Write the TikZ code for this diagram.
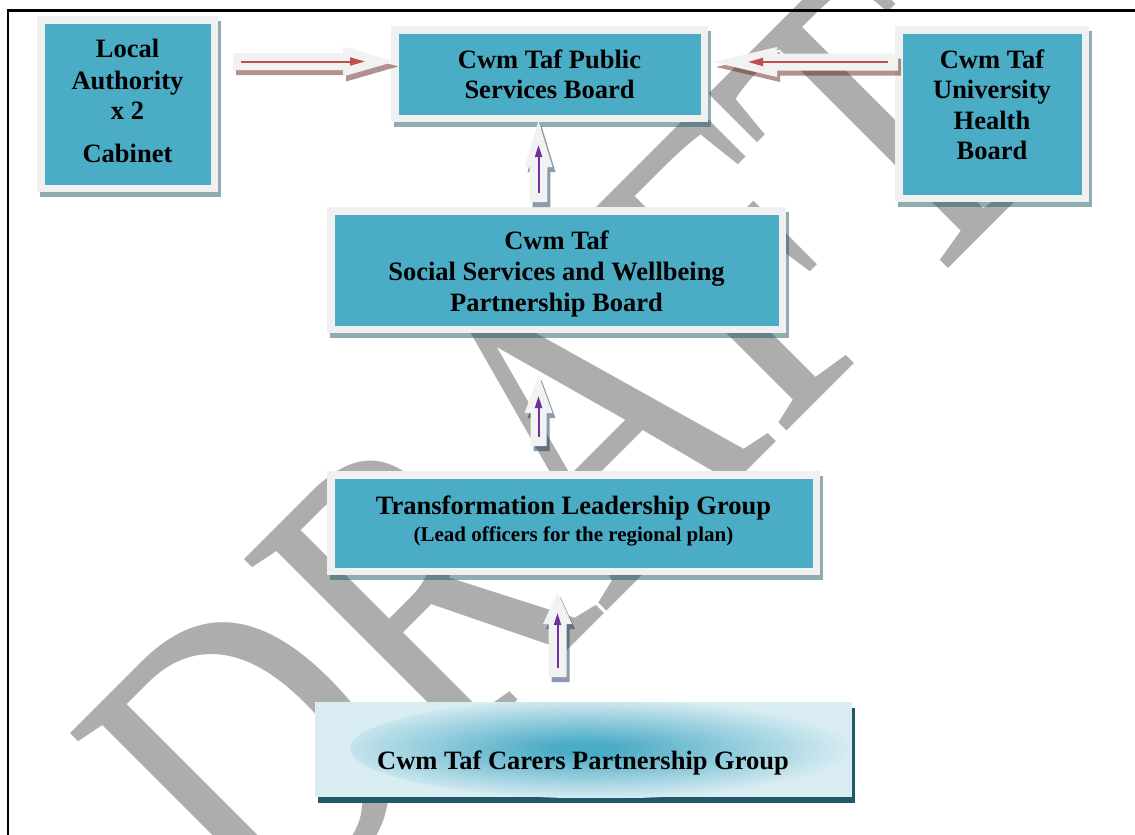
\documentclass[tikz,border=0pt]{standalone}
\usepackage{fontspec}
\setmainfont{Liberation Serif}
\usetikzlibrary{arrows.meta,calc,shadows}
\definecolor{teal1}{HTML}{4BACC6}
\definecolor{frame1}{HTML}{F0F0F0}
\definecolor{shd}{HTML}{215968}
\definecolor{wm}{HTML}{ADADAD}
\definecolor{arrfill}{HTML}{F2F2F2}
\definecolor{redl}{HTML}{C0504D}
\definecolor{purl}{HTML}{7030A0}
\definecolor{redshd}{HTML}{632523}
\definecolor{blushd}{HTML}{17365D}
\definecolor{lightc}{HTML}{D8ECF2}
\pgfdeclareradialshading{carersglow}{\pgfpointorigin}{color(0bp)=(teal1); color(3bp)=(teal1); color(25bp)=(lightc); color(50bp)=(lightc)}
% #1 tail, #2 tip, #3 shaft half width, #4 head half width, #5 head length, #6 fill style
\newcommand{\blockarrow}[6]{%
  \coordinate (#2-base) at ($(#2)!#5!(#1)$);
  \fill[#6] ($(#1)!#3!90:(#2)$) -- ($(#2-base)!#3!-90:(#1)$) -- ($(#2-base)!#4!-90:(#1)$) -- (#2)
    -- ($(#2-base)!#4!90:(#1)$) -- ($(#2-base)!#3!90:(#1)$) -- ($(#1)!#3!-90:(#2)$) -- cycle;}
\begin{document}
\begin{tikzpicture}[x=1pt,y=-1pt,
  panel/.style={rectangle, fill=frame1, inner sep=0pt,
    drop shadow={shadow xshift=3pt, shadow yshift=-5pt, fill=shd, opacity=0.5},
    path picture={\fill[teal1] ([shift={(7.5pt,-7.5pt)}]path picture bounding box.north west)
      rectangle ([shift={(-7.5pt,7.5pt)}]path picture bounding box.south east);}},
  carerbox/.style={rectangle, fill=lightc, inner sep=0pt,
    drop shadow={shadow xshift=3pt, shadow yshift=-6pt, fill=shd, opacity=1},
    path picture={\shade[shading=carersglow] ($(path picture bounding box.center)+(17pt,1pt)$)
      ellipse [x radius=250pt, y radius=50pt];}},
  boxtext/.style={font=\bfseries\fontsize{26.5}{30}\selectfont, anchor=base, inner sep=0pt},
  subtext/.style={font=\bfseries\fontsize{21}{24}\selectfont, anchor=base, inner sep=0pt},
  redline/.style={draw=redl, line width=2pt, -{Triangle[length=15pt,width=8pt]}},
  purline/.style={draw=purl, line width=2pt, -{Triangle[length=12pt,width=7pt]}},
  wmark/.style={text=wm, font=\fontsize{340}{340}\selectfont, inner sep=0pt}
]
\useasboundingbox (0,0) rectangle (1135,835);
\clip (0,0) rectangle (1135,835);

% watermark
\node[wmark, rotate=45, yscale=1.315] (draftmark) at (560.7,449) {DRAFT};

% boxes
\node[panel, minimum width=181pt, minimum height=176pt] (lauth) at (127.5,104) {};
\node[panel, minimum width=317pt, minimum height=96pt] (psb) at (549.5,74) {};
\node[panel, minimum width=194pt, minimum height=176pt] (uhb) at (992,114) {};
\node[panel, minimum width=459pt, minimum height=126pt] (sswb) at (556.5,270) {};
\node[panel, minimum width=493pt, minimum height=104pt] (tlg) at (573.5,523) {};
\node[carerbox, minimum width=537pt, minimum height=95pt] (cpg) at (583.5,749.5) {};

% arrow end points
\coordinate (a1t) at (233,61.5);   \coordinate (a1p) at (395,61.5);
\coordinate (a2t) at (898,62);     \coordinate (a2p) at (713,62);
\coordinate (a3t) at (538.5,202);  \coordinate (a3p) at (538.5,121);
\coordinate (a4t) at (538.5,446);  \coordinate (a4p) at (538.5,375);
\coordinate (a5t) at (557.5,677);  \coordinate (a5p) at (557.5,592);

% arrow shadows
\begin{scope}[transform canvas={shift={(3pt,-5pt)}}]
  \blockarrow{a1t}{a1p}{8.5pt}{15pt}{52pt}{redshd, opacity=0.5}
  \blockarrow{a2t}{a2p}{8.5pt}{15pt}{64pt}{redshd, opacity=0.5}
  \blockarrow{a3t}{a3p}{8.8pt}{14pt}{46pt}{blushd, opacity=0.5}
  \blockarrow{a4t}{a4p}{8pt}{14pt}{38pt}{blushd, opacity=0.5}
  \blockarrow{a5t}{a5p}{9pt}{14.5pt}{32pt}{blushd, opacity=0.5}
\end{scope}
% arrow bodies
\blockarrow{a1t}{a1p}{8.5pt}{15pt}{52pt}{arrfill}
\blockarrow{a2t}{a2p}{8.5pt}{15pt}{64pt}{arrfill}
\blockarrow{a3t}{a3p}{8.8pt}{14pt}{46pt}{arrfill}
\blockarrow{a4t}{a4p}{8pt}{14pt}{38pt}{arrfill}
\blockarrow{a5t}{a5p}{9pt}{14.5pt}{32pt}{arrfill}

% inner lines
\coordinate (r1a) at (241,61.5);   \coordinate (r1b) at (365,61.5);
\coordinate (r2a) at (888,62);     \coordinate (r2b) at (748,62);
\coordinate (p3a) at (538.5,193);  \coordinate (p3b) at (538.5,145);
\coordinate (p4a) at (538.5,437);  \coordinate (p4b) at (538.5,396);
\coordinate (p5a) at (557.5,668);  \coordinate (p5b) at (557.5,613);
\draw[redline] (r1a) -- (r1b);
\draw[redline] (r2a) -- (r2b);
\draw[purline] (p3a) -- (p3b);
\draw[purline] (p4a) -- (p4b);
\draw[purline] (p5a) -- (p5b);

% texts
\node[boxtext] (lauth-1) at (127.5,57.3) {Local};
\node[boxtext] (lauth-2) at (127.5,89.3) {Authority};
\node[boxtext] (lauth-3) at (127.5,119) {x 2};
\node[boxtext] (lauth-4) at (127.5,162.3) {Cabinet};
\node[boxtext] (psb-1) at (549.5,68) {Cwm Taf Public};
\node[boxtext] (psb-2) at (549.5,98) {Services Board};
\node[boxtext] (uhb-1) at (992,68) {Cwm Taf};
\node[boxtext] (uhb-2) at (992,98.5) {University};
\node[boxtext] (uhb-3) at (992,129) {Health};
\node[boxtext] (uhb-4) at (992,159.5) {Board};
\node[boxtext] (sswb-1) at (556.5,249.5) {Cwm Taf};
\node[boxtext] (sswb-2) at (556.5,280.5) {Social Services and Wellbeing};
\node[boxtext] (sswb-3) at (556.5,311.5) {Partnership Board};
\node[boxtext] (tlg-1) at (573.5,514.5) {Transformation Leadership Group};
\node[subtext] (tlg-2) at (573.5,541.5) {(Lead officers for the regional plan)};
\node[boxtext] (cpg-1) at (583,769) {Cwm Taf Carers Partnership Group};

% page frame
\draw[line width=2.5pt] (7.8,835) -- (7.8,10.3) -- (1135,10.3);
\end{tikzpicture}
\end{document}
